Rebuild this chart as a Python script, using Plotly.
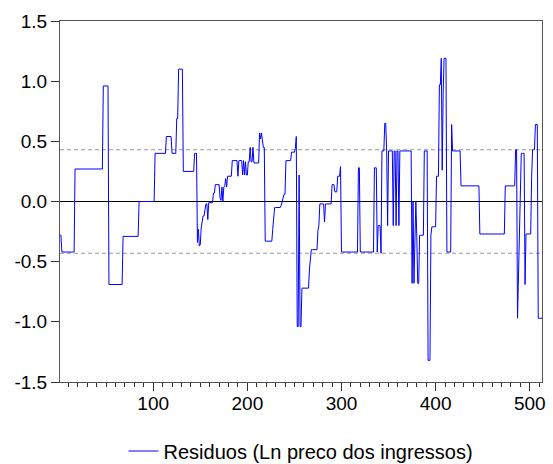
import plotly.graph_objects as go

# ---- data ----
N_OBS = 513
# run-length description of the residual series: value holds from seg_start until next start
seg_start = [1,3,17,47,53,68,85,102,114,120,
             125,127,132,144,147,148,149,150,151,152,
             153,155,156,158,159,164,166,171,172,173,
             174,175,176,177,178,179,184,190,191,195,
             196,197,198,199,201,203,204,206,207,213,
             214,215,216,217,219,227,228,229,236,237,
             238,239,241,247,251,252,253,255,256,258,
             266,267,268,275,276,277,282,283,290,293,
             296,299,300,318,320,335,338,339,342,343,
             346,348,349,350,355,356,358,359,361,362,
             375,376,377,378,379,380,381,383,388,392,
             395,396,401,404,406,407,408,409,412,417,
             418,427,447,474,485,487,488,489,490,491,
             495,496,502,503,506,509]
seg_value = [-0.28,-0.42,0.27,0.96,-0.69,-0.29,0.00,0.40,0.54,0.40,
             0.69,1.10,0.25,0.40,-0.34,-0.23,-0.37,-0.36,-0.22,-0.18,
             -0.12,-0.06,-0.02,-0.15,-0.01,0.07,0.14,0.03,0.01,0.12,
             0.00,0.12,0.13,0.19,0.12,0.21,0.34,0.21,0.34,0.22,
             0.34,0.22,0.33,0.22,0.33,0.45,0.33,0.45,0.32,0.57,
             0.52,0.57,0.52,0.45,-0.33,-0.23,-0.15,-0.05,-0.03,0.00,
             0.03,0.06,0.34,0.41,0.44,0.54,-1.04,0.22,-1.04,-0.72,
             -0.56,-0.50,-0.40,-0.24,-0.20,-0.02,-0.17,-0.02,0.14,0.08,
             0.21,0.29,-0.42,0.28,-0.42,0.28,-0.42,-0.20,-0.43,0.42,
             0.65,0.42,-0.20,0.42,-0.20,0.42,-0.20,0.42,-0.20,0.42,
             -0.68,0.00,-0.68,-0.30,0.00,-0.29,-0.68,-0.28,0.42,-1.32,
             -0.28,-0.21,0.21,0.97,1.19,0.26,0.90,1.19,-0.42,0.64,
             0.42,0.13,-0.27,0.13,0.43,-0.97,-0.60,-0.20,0.20,0.40,
             -0.69,-0.27,0.20,0.43,0.64,-0.97]
assert len(seg_start) == len(seg_value)

band = 0.43          # +/- reference band
y_ticks = [-1.5, -1.0, -0.5, 0.0, 0.5, 1.0, 1.5]
y_ticktext = ["-1.5", "-1.0", "-0.5", "0.0", "0.5", "1.0", "1.5"]
x_ticks = [100, 200, 300, 400, 500]
series_name = "Residuos (Ln preco dos ingressos)"

# expand the runs to one value per observation
obs = list(range(1, N_OBS + 1))
resid = []
k = 0
for t in obs:
    while k + 1 < len(seg_start) and seg_start[k + 1] <= t:
        k += 1
    resid.append(seg_value[k])

FONT = "Liberation Sans, Arial, sans-serif"

fig = go.Figure()
fig.add_trace(go.Scatter(x=obs, y=resid, mode="lines", name=series_name,
                         line=dict(color="#0000ff", width=1)))

for yv, col, dash in [(band, "#999999", "4px,3px"), (-band, "#999999", "4px,3px"), (0.0, "#000000", "solid")]:
    fig.add_shape(type="line", xref="paper", x0=0, x1=1, yref="y", y0=yv, y1=yv,
                  line=dict(color=col, width=1, dash=dash), layer="below")

fig.update_layout(
    width=553, height=464,
    margin=dict(l=60, r=11, t=21, b=82, autoexpand=False),
    paper_bgcolor="white", plot_bgcolor="white",
    font=dict(family=FONT, size=19, color="#000000"),
    showlegend=True,
    legend=dict(orientation="h", x=0.5, xanchor="center",
                yref="container", y=0.028, yanchor="middle",
                font=dict(family=FONT, size=20), bgcolor="rgba(0,0,0,0)"),
    xaxis=dict(range=[1, N_OBS], tickmode="array", tickvals=x_ticks,
               ticks="outside", ticklen=8, tickcolor="#333333",
               ticklabelstandoff=-4,
               showgrid=False, zeroline=False,
               showline=True, linecolor="#555555", mirror=True, linewidth=1,
               minor=dict(dtick=10, tick0=0, ticks="outside", ticklen=4, tickcolor="#333333", showgrid=False),
               tickfont=dict(size=19)),
    yaxis=dict(range=[-1.5, 1.5], tickmode="array", tickvals=y_ticks, ticktext=y_ticktext,
               ticks="outside", ticklen=8, tickcolor="#333333",
               showgrid=False, zeroline=False,
               showline=True, linecolor="#555555", mirror=True, linewidth=1,
               tickfont=dict(size=19)),
)

fig.write_html("out.html")
